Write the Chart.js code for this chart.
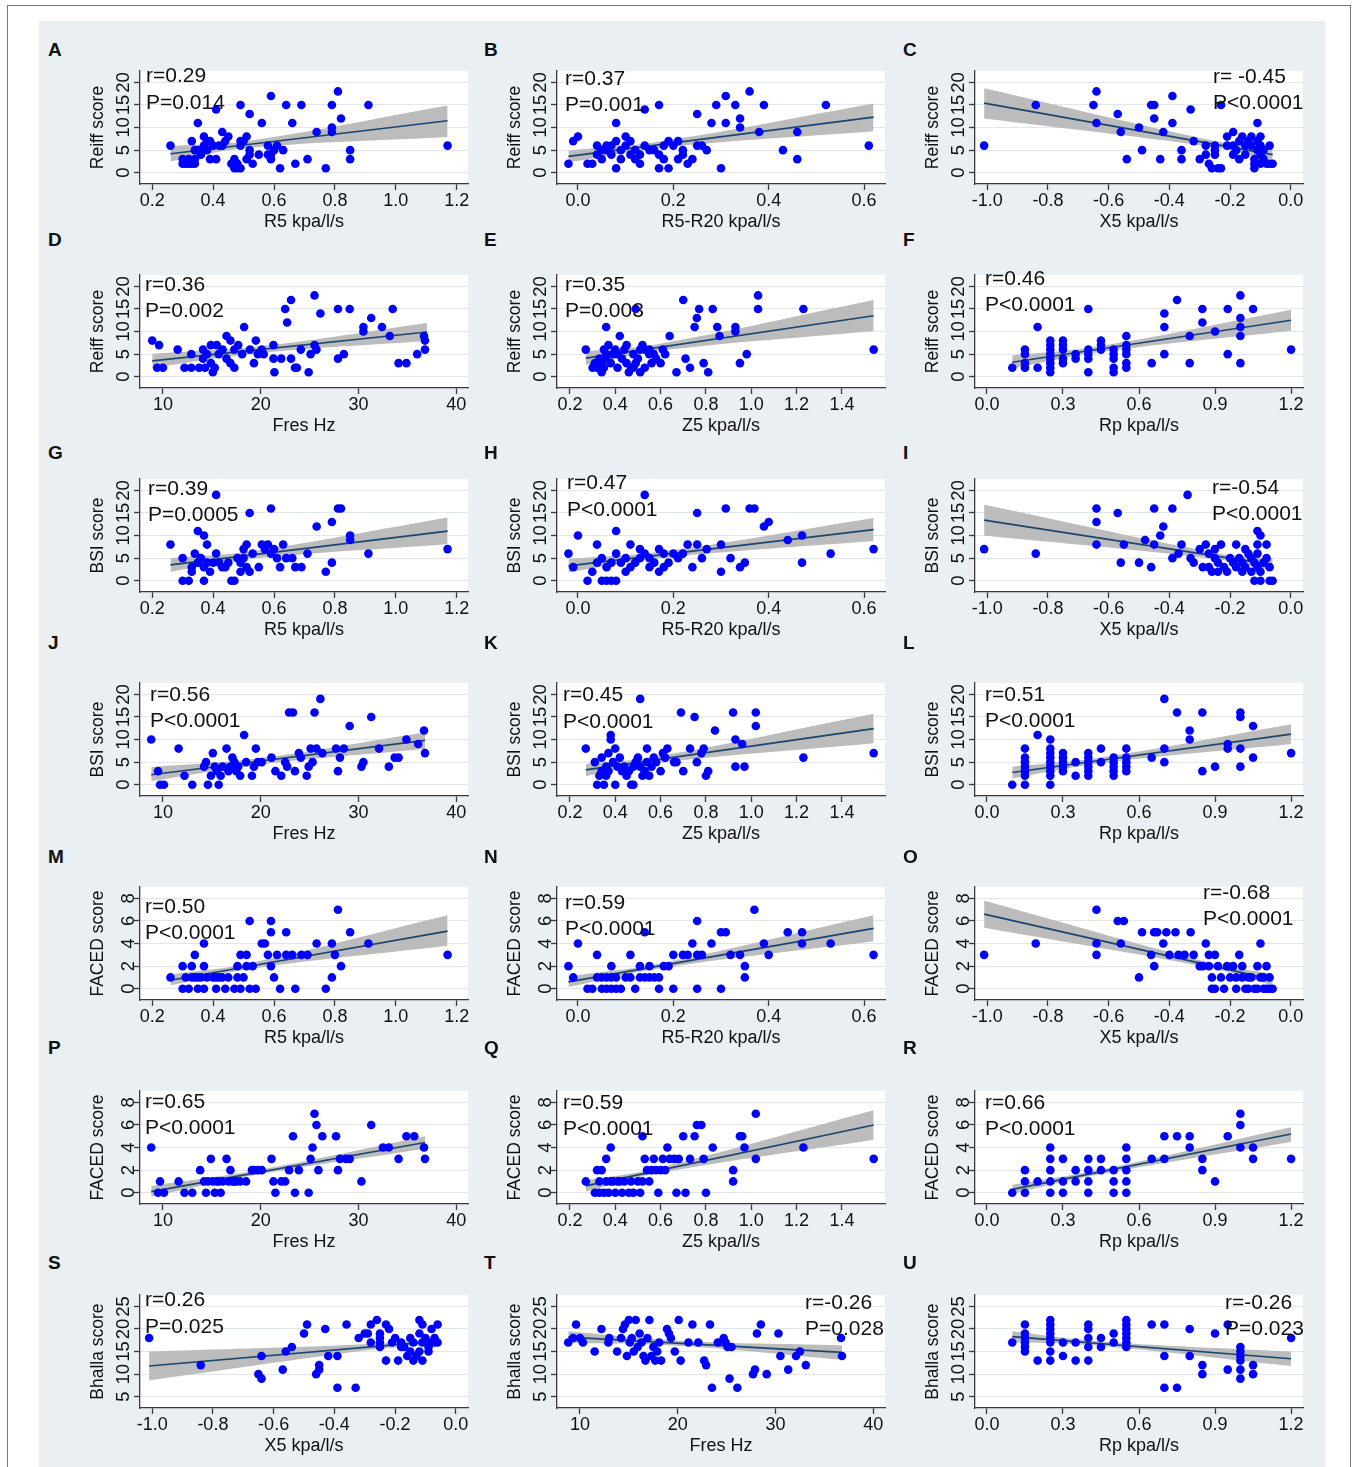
<!DOCTYPE html>
<html>
<head>
<meta charset="utf-8">
<script src="https://cdn.jsdelivr.net/npm/chart.js@4.4.1/dist/chart.umd.min.js"></script>
<style>
  body { margin: 0; background: #fff; }
  #fig { position: relative; width: 1357px; height: 1467px; overflow: hidden; background: #fff; }
  .frame { position: absolute; left: 7px; top: 5px; width: 1342px; height: 1480px; border: 1.5px solid #777; }
  .bg { position: absolute; left: 39px; top: 21px; width: 1286px; height: 1460px; background: #e9eff2; }
  .panel { position: absolute; width: 396px; height: 179px; }
  .letter { position: absolute; font: bold 19px "Liberation Sans", Arial, sans-serif; line-height: 20px; color: #111; }
  .stat { position: absolute; font: 21px "Liberation Sans", Arial, sans-serif; line-height: 24px; white-space: nowrap; color: #111; }
</style>
</head>
<body>
<div id="fig">
  <div class="frame"></div>
  <div class="bg"></div>
</div>
<script>
// ---------------- Axis ticks ----------------
const ticksR5 = [0.2, 0.4, 0.6, 0.8, 1.0, 1.2];
const ticksR5R20 = [0.0, 0.2, 0.4, 0.6];
const ticksX5 = [-1.0, -0.8, -0.6, -0.4, -0.2, 0.0];
const ticksFres = [10, 20, 30, 40];
const ticksZ5 = [0.2, 0.4, 0.6, 0.8, 1.0, 1.2, 1.4];
const ticksRp = [0.0, 0.3, 0.6, 0.9, 1.2];
const ticksScore20 = [0, 5, 10, 15, 20];
const ticksFaced = [0, 2, 4, 6, 8];
const ticksBhalla = [5, 10, 15, 20, 25];

// ---------------- Scatter data [x, score] ----------------
const ptsA = [[0.26,6],[0.30,3],[0.30,2],[0.31,2],[0.32,3],[0.32,2],[0.33,2],[0.33,7],[0.34,2],[0.34,3],[0.34,5],[0.35,11],[0.35,5],[0.36,4],[0.37,8],[0.37,6],[0.38,5],[0.38,7],[0.39,3],[0.39,7],[0.40,6],[0.41,14],[0.41,3],[0.42,6],[0.43,9],[0.43,6],[0.44,7],[0.45,8],[0.46,2],[0.47,1],[0.47,3],[0.48,2],[0.48,1],[0.49,15],[0.49,7],[0.49,6],[0.49,1],[0.50,7],[0.51,8],[0.51,3],[0.52,13],[0.52,5],[0.52,4],[0.53,2],[0.55,4],[0.56,11],[0.58,6],[0.58,4],[0.59,17],[0.59,4],[0.59,3],[0.60,5],[0.61,6],[0.62,1],[0.63,5],[0.64,15],[0.66,11],[0.67,2],[0.69,15],[0.71,3],[0.74,9],[0.77,1],[0.79,15],[0.79,10],[0.79,9],[0.81,18],[0.82,12],[0.85,5],[0.85,3],[0.91,15],[1.17,6]];
const ptsB = [[-0.02,2],[-0.01,7],[0.00,8],[0.02,2],[0.03,2],[0.04,6],[0.04,4],[0.05,5],[0.05,3],[0.06,6],[0.06,5],[0.07,4],[0.07,6],[0.08,7],[0.08,11],[0.08,1],[0.09,5],[0.09,3],[0.10,8],[0.10,6],[0.11,4],[0.11,7],[0.12,3],[0.12,5],[0.13,2],[0.13,4],[0.14,14],[0.14,6],[0.15,5],[0.16,5],[0.17,4],[0.17,15],[0.17,1],[0.18,3],[0.18,6],[0.19,7],[0.19,1],[0.20,6],[0.21,7],[0.21,3],[0.22,5],[0.22,4],[0.23,2],[0.24,3],[0.25,13],[0.25,6],[0.26,6],[0.27,5],[0.28,11],[0.29,15],[0.30,1],[0.31,17],[0.31,11],[0.33,15],[0.34,12],[0.34,10],[0.36,18],[0.38,9],[0.39,15],[0.43,5],[0.46,9],[0.46,3],[0.52,15],[0.61,6]];
const ptsC = [[-1.01,6],[-0.84,15],[-0.65,15],[-0.64,18],[-0.64,11],[-0.57,13],[-0.56,9],[-0.54,3],[-0.50,10],[-0.49,5],[-0.46,15],[-0.45,15],[-0.45,12],[-0.43,3],[-0.42,9],[-0.39,17],[-0.39,11],[-0.36,5],[-0.36,3],[-0.33,14],[-0.32,7],[-0.30,3],[-0.28,6],[-0.28,4],[-0.27,2],[-0.26,1],[-0.25,6],[-0.25,5],[-0.25,4],[-0.24,1],[-0.23,15],[-0.23,1],[-0.21,8],[-0.21,6],[-0.19,9],[-0.19,4],[-0.19,6],[-0.18,5],[-0.17,3],[-0.17,7],[-0.16,8],[-0.15,6],[-0.15,4],[-0.14,7],[-0.13,8],[-0.13,6],[-0.12,1],[-0.12,2],[-0.12,3],[-0.11,11],[-0.11,5],[-0.11,7],[-0.10,8],[-0.10,6],[-0.10,4],[-0.10,2],[-0.09,5],[-0.09,3],[-0.08,2],[-0.07,6],[-0.07,2],[-0.06,2]];
const ptsD = [[8.9,8],[9.6,7],[9.4,2],[10.0,2],[11.5,6],[12.2,2],[12.9,2],[12.9,5],[13.7,2],[14.1,6],[14.1,4],[14.3,2],[14.5,5],[14.9,7],[14.9,3],[15.1,1],[15.3,2],[15.5,7],[15.7,5],[16.1,6],[16.5,9],[16.5,4],[16.9,8],[16.9,3],[17.3,6],[17.3,2],[17.7,7],[18.1,5],[18.3,11],[18.9,6],[19.3,3],[19.5,8],[19.7,5],[20.1,6],[20.3,5],[21.3,7],[21.3,4],[21.4,1],[22.1,4],[22.5,15],[22.7,12],[23.1,17],[23.1,4],[23.5,2],[23.7,2],[24.1,6],[24.9,1],[25.1,5],[25.5,18],[25.5,7],[26.1,14],[25.7,6],[27.9,4],[27.9,15],[28.5,5],[29.1,15],[30.5,11],[30.5,10],[31.3,13],[32.4,11],[33.2,9],[33.5,15],[34.1,3],[34.9,3],[36.0,5],[36.7,9],[36.8,8],[36.8,6]];
const ptsE = [[0.27,6],[0.30,2],[0.31,3],[0.32,2],[0.33,4],[0.34,1],[0.34,3],[0.35,6],[0.36,11],[0.36,5],[0.37,7],[0.38,3],[0.40,6],[0.41,2],[0.41,5],[0.42,9],[0.44,6],[0.45,7],[0.46,1],[0.47,2],[0.48,5],[0.48,2],[0.49,15],[0.49,3],[0.51,6],[0.51,1],[0.52,7],[0.53,2],[0.55,5],[0.55,6],[0.56,3],[0.57,5],[0.60,3],[0.61,6],[0.64,9],[0.67,1],[0.70,17],[0.71,4],[0.73,2],[0.75,11],[0.76,13],[0.77,15],[0.79,3],[0.81,1],[0.83,15],[0.85,11],[0.86,9],[0.93,11],[0.93,10],[0.95,3],[0.98,5],[1.03,18],[1.03,15],[1.23,15],[1.54,6],[0.33,2],[0.36,4],[0.39,5],[0.43,4],[0.45,3],[0.50,4],[0.53,6],[0.58,4],[0.62,5],[0.35,2]];
const ptsF = [[0.10,2],[0.15,6],[0.15,5],[0.15,3],[0.15,2],[0.20,11],[0.20,2],[0.25,1],[0.25,2],[0.25,3],[0.25,4],[0.25,5],[0.25,6],[0.25,7],[0.25,8],[0.30,3],[0.30,4],[0.30,6],[0.30,7],[0.30,8],[0.35,5],[0.35,4],[0.40,15],[0.40,1],[0.40,6],[0.40,5],[0.40,4],[0.45,7],[0.45,8],[0.45,6],[0.50,5],[0.50,6],[0.50,4],[0.50,2],[0.50,1],[0.55,9],[0.55,7],[0.55,6],[0.55,5],[0.55,3],[0.55,2],[0.65,3],[0.70,14],[0.70,11],[0.70,5],[0.75,17],[0.80,3],[0.80,9],[0.85,15],[0.85,12],[0.90,10],[0.95,15],[0.95,5],[1.00,18],[1.00,13],[1.00,11],[1.00,9],[1.00,3],[1.05,15],[1.20,6]];
const ptsG = [[0.26,8],[0.30,5],[0.30,0],[0.32,0],[0.33,2],[0.33,3],[0.34,6],[0.35,11],[0.35,4],[0.36,5],[0.37,10],[0.37,0],[0.37,3],[0.38,8],[0.38,4],[0.39,2],[0.40,4],[0.41,19],[0.41,6],[0.42,4],[0.43,3],[0.44,3],[0.45,4],[0.46,0],[0.47,0],[0.48,5],[0.49,2],[0.49,4],[0.50,7],[0.50,5],[0.51,3],[0.51,8],[0.52,15],[0.52,2],[0.53,6],[0.55,3],[0.56,8],[0.57,7],[0.58,8],[0.59,16],[0.59,6],[0.60,7],[0.61,5],[0.62,3],[0.63,8],[0.64,5],[0.66,5],[0.67,3],[0.69,3],[0.71,6],[0.74,12],[0.77,2],[0.79,13],[0.79,4],[0.81,16],[0.82,16],[0.85,10],[0.85,9],[0.91,6],[1.17,7]];
const ptsH = [[-0.02,6],[-0.01,3],[0.00,10],[0.02,0],[0.03,2],[0.04,8],[0.04,4],[0.05,5],[0.05,0],[0.06,3],[0.06,0],[0.07,4],[0.07,0],[0.08,11],[0.08,0],[0.08,6],[0.09,4],[0.10,2],[0.10,5],[0.11,8],[0.11,3],[0.12,4],[0.13,7],[0.13,5],[0.14,19],[0.14,6],[0.15,5],[0.15,3],[0.16,4],[0.17,2],[0.17,7],[0.18,6],[0.18,3],[0.19,4],[0.20,6],[0.21,5],[0.22,6],[0.23,8],[0.24,3],[0.25,15],[0.25,8],[0.26,5],[0.27,7],[0.30,8],[0.30,2],[0.31,16],[0.32,5],[0.34,3],[0.35,4],[0.36,16],[0.37,16],[0.39,12],[0.40,13],[0.44,9],[0.47,10],[0.47,4],[0.53,6],[0.62,7]];
const ptsI = [[-1.01,7],[-0.84,6],[-0.64,13],[-0.64,16],[-0.64,8],[-0.57,15],[-0.56,4],[-0.55,8],[-0.50,4],[-0.48,9],[-0.46,3],[-0.45,16],[-0.45,8],[-0.43,10],[-0.42,12],[-0.39,16],[-0.39,5],[-0.37,6],[-0.36,8],[-0.34,19],[-0.33,5],[-0.32,4],[-0.30,7],[-0.29,3],[-0.28,8],[-0.27,6],[-0.27,3],[-0.26,2],[-0.25,7],[-0.25,5],[-0.24,4],[-0.24,2],[-0.23,8],[-0.22,3],[-0.21,2],[-0.20,5],[-0.19,4],[-0.18,8],[-0.18,3],[-0.17,5],[-0.16,4],[-0.16,2],[-0.15,7],[-0.15,3],[-0.14,6],[-0.13,5],[-0.13,2],[-0.12,4],[-0.12,0],[-0.11,11],[-0.11,8],[-0.11,6],[-0.11,3],[-0.10,10],[-0.10,0],[-0.10,2],[-0.09,4],[-0.08,8],[-0.08,5],[-0.07,0],[-0.06,0],[-0.07,3]];
const ptsJ = [[8.8,10],[9.5,3],[9.7,0],[10.1,0],[11.6,8],[12.2,2],[13.0,0],[14.2,4],[14.4,5],[14.6,0],[14.9,2],[15.1,7],[15.3,4],[15.5,3],[15.7,0],[15.9,2],[16.1,4],[16.5,8],[16.7,3],[16.9,4],[17.1,6],[17.3,5],[17.5,3],[17.7,4],[17.9,2],[18.3,11],[18.5,5],[19.1,2],[19.3,4],[19.5,8],[19.7,5],[20.1,5],[21.1,6],[21.5,3],[22.1,2],[22.5,5],[22.7,4],[22.9,16],[23.3,16],[23.5,3],[23.9,7],[24.1,6],[24.7,2],[24.9,4],[25.1,8],[25.3,5],[25.5,16],[25.7,8],[26.1,19],[26.3,7],[27.7,8],[27.9,3],[28.1,6],[28.5,8],[29.1,13],[30.3,4],[30.5,5],[31.3,15],[32.1,8],[33.1,4],[33.7,6],[34.1,6],[34.9,10],[36.1,9],[36.7,12],[36.8,7]];
const ptsK = [[0.27,8],[0.31,5],[0.32,0],[0.33,2],[0.34,6],[0.34,3],[0.35,0],[0.36,4],[0.36,2],[0.37,7],[0.37,3],[0.38,11],[0.38,10],[0.39,5],[0.40,8],[0.40,0],[0.41,4],[0.42,6],[0.43,3],[0.44,4],[0.45,2],[0.46,3],[0.47,0],[0.48,0],[0.48,4],[0.49,5],[0.50,6],[0.51,19],[0.51,4],[0.52,2],[0.53,3],[0.54,5],[0.54,8],[0.55,2],[0.56,4],[0.57,6],[0.58,5],[0.60,3],[0.61,7],[0.62,6],[0.63,8],[0.66,5],[0.67,5],[0.69,16],[0.70,3],[0.73,8],[0.75,15],[0.76,5],[0.78,7],[0.79,8],[0.80,2],[0.81,3],[0.84,12],[0.92,16],[0.93,10],[0.93,4],[0.96,9],[0.97,4],[1.02,16],[1.02,13],[1.23,6],[1.54,7]];
const ptsL = [[0.10,0],[0.15,8],[0.15,6],[0.15,5],[0.15,4],[0.15,3],[0.15,2],[0.15,0],[0.20,11],[0.25,10],[0.25,8],[0.25,7],[0.25,6],[0.25,5],[0.25,4],[0.25,3],[0.25,2],[0.25,0],[0.30,7],[0.30,6],[0.30,5],[0.30,4],[0.30,3],[0.35,5],[0.35,2],[0.40,7],[0.40,6],[0.40,5],[0.40,4],[0.40,3],[0.40,2],[0.45,8],[0.45,5],[0.50,6],[0.50,5],[0.50,4],[0.50,3],[0.50,2],[0.55,8],[0.55,6],[0.55,5],[0.55,4],[0.55,3],[0.65,6],[0.70,19],[0.70,8],[0.70,5],[0.75,16],[0.80,12],[0.80,10],[0.85,16],[0.85,3],[0.90,4],[0.95,9],[0.95,8],[1.00,16],[1.00,15],[1.00,8],[1.00,4],[1.05,13],[1.05,6],[1.20,7]];
const ptsM = [[0.26,1],[0.30,0],[0.30,2],[0.31,1],[0.32,0],[0.33,2],[0.33,1],[0.34,3],[0.34,1],[0.35,1],[0.35,0],[0.36,1],[0.37,4],[0.37,2],[0.37,0],[0.38,1],[0.40,1],[0.41,1],[0.41,0],[0.42,1],[0.43,1],[0.44,0],[0.45,1],[0.47,0],[0.48,2],[0.48,1],[0.49,3],[0.49,0],[0.50,1],[0.51,3],[0.51,2],[0.52,6],[0.52,0],[0.53,2],[0.54,0],[0.56,4],[0.57,4],[0.58,3],[0.59,6],[0.59,5],[0.59,2],[0.60,1],[0.61,3],[0.62,0],[0.64,5],[0.64,3],[0.66,3],[0.67,0],[0.69,3],[0.71,3],[0.74,4],[0.77,0],[0.79,4],[0.79,1],[0.80,3],[0.81,7],[0.82,2],[0.85,5],[0.91,4],[1.17,3]];
const ptsN = [[-0.02,2],[-0.01,1],[0.00,4],[0.02,0],[0.03,0],[0.04,3],[0.04,1],[0.05,1],[0.05,0],[0.06,1],[0.06,0],[0.07,2],[0.07,1],[0.07,0],[0.08,1],[0.08,0],[0.09,0],[0.10,1],[0.11,3],[0.11,1],[0.12,0],[0.13,2],[0.13,1],[0.14,5],[0.14,1],[0.15,2],[0.15,1],[0.16,1],[0.17,1],[0.17,0],[0.18,2],[0.19,2],[0.20,3],[0.20,0],[0.22,3],[0.23,3],[0.24,4],[0.25,6],[0.25,3],[0.25,0],[0.26,3],[0.28,4],[0.30,5],[0.30,0],[0.31,5],[0.32,3],[0.34,3],[0.35,2],[0.35,1],[0.37,7],[0.39,4],[0.40,3],[0.44,5],[0.47,5],[0.47,4],[0.53,4],[0.62,3]];
const ptsO = [[-1.01,3],[-0.84,4],[-0.64,7],[-0.64,4],[-0.64,3],[-0.57,6],[-0.56,4],[-0.55,6],[-0.50,1],[-0.49,5],[-0.46,3],[-0.45,5],[-0.45,2],[-0.44,5],[-0.42,4],[-0.41,5],[-0.40,3],[-0.38,5],[-0.37,3],[-0.35,3],[-0.33,5],[-0.32,3],[-0.30,2],[-0.29,2],[-0.28,4],[-0.27,3],[-0.27,2],[-0.26,1],[-0.26,0],[-0.25,3],[-0.25,0],[-0.24,2],[-0.23,1],[-0.22,0],[-0.21,2],[-0.20,1],[-0.19,2],[-0.18,1],[-0.18,0],[-0.17,3],[-0.16,1],[-0.16,2],[-0.15,0],[-0.14,1],[-0.14,0],[-0.13,1],[-0.12,0],[-0.11,2],[-0.11,0],[-0.10,4],[-0.10,1],[-0.09,0],[-0.09,1],[-0.08,2],[-0.08,0],[-0.07,1],[-0.07,0],[-0.06,0]];
const ptsP = [[8.8,4],[9.5,0],[9.7,1],[10.1,0],[11.6,1],[12.2,0],[13.0,0],[13.8,2],[14.2,1],[14.4,0],[14.6,1],[14.9,3],[15.1,1],[15.3,0],[15.5,1],[15.7,1],[15.9,0],[16.1,1],[16.5,3],[16.7,1],[16.9,2],[17.1,1],[17.3,1],[17.5,1],[17.9,1],[18.5,1],[19.1,2],[19.3,2],[19.7,2],[20.1,2],[21.1,3],[21.3,1],[21.5,0],[22.1,1],[22.5,1],[22.9,2],[23.3,5],[23.5,0],[23.9,2],[24.9,0],[25.1,3],[25.3,4],[25.5,7],[25.7,6],[25.9,2],[26.3,5],[27.7,5],[27.9,2],[28.1,3],[28.7,3],[29.1,3],[30.3,1],[31.3,6],[32.5,4],[33.1,4],[34.1,3],[34.9,5],[35.7,5],[36.7,4],[36.8,3]];
const ptsQ = [[0.27,1],[0.31,0],[0.32,2],[0.33,1],[0.33,0],[0.34,2],[0.35,0],[0.36,3],[0.36,1],[0.37,0],[0.38,4],[0.38,1],[0.39,1],[0.40,0],[0.41,1],[0.42,1],[0.43,0],[0.44,1],[0.46,0],[0.47,1],[0.48,0],[0.50,1],[0.51,0],[0.52,5],[0.52,1],[0.53,3],[0.54,2],[0.55,1],[0.56,2],[0.57,3],[0.58,2],[0.59,0],[0.60,2],[0.61,3],[0.62,2],[0.63,4],[0.64,3],[0.66,3],[0.67,0],[0.68,3],[0.70,5],[0.71,0],[0.73,3],[0.75,5],[0.76,6],[0.78,6],[0.79,3],[0.80,0],[0.83,4],[0.92,2],[0.92,1],[0.95,5],[0.96,5],[0.97,4],[1.02,7],[1.02,3],[1.23,4],[1.54,3]];
const ptsR = [[0.10,0],[0.15,2],[0.15,1],[0.15,0],[0.20,1],[0.25,4],[0.25,3],[0.25,2],[0.25,1],[0.25,0],[0.30,3],[0.30,1],[0.30,0],[0.35,2],[0.35,1],[0.40,3],[0.40,2],[0.40,1],[0.40,0],[0.45,3],[0.45,2],[0.50,2],[0.50,1],[0.50,0],[0.55,4],[0.55,3],[0.55,2],[0.55,1],[0.55,0],[0.65,3],[0.70,5],[0.70,3],[0.75,5],[0.80,5],[0.80,4],[0.85,3],[0.85,2],[0.90,1],[0.95,5],[1.00,7],[1.00,6],[1.00,4],[1.05,4],[1.05,3],[1.20,3]];
const ptsS = [[-1.01,18],[-0.84,12],[-0.65,10],[-0.64,9],[-0.64,14],[-0.57,11],[-0.56,15],[-0.54,16],[-0.50,19],[-0.49,21],[-0.46,10],[-0.45,11],[-0.45,12],[-0.43,20],[-0.42,14],[-0.39,7],[-0.39,14],[-0.36,21],[-0.33,7],[-0.32,18],[-0.30,19],[-0.29,19],[-0.28,17],[-0.28,21],[-0.26,22],[-0.25,19],[-0.25,18],[-0.25,16],[-0.25,17],[-0.23,13],[-0.23,21],[-0.22,20],[-0.21,17],[-0.20,18],[-0.19,13],[-0.18,16],[-0.18,17],[-0.17,16],[-0.16,14],[-0.15,18],[-0.15,15],[-0.14,13],[-0.14,17],[-0.13,14],[-0.12,22],[-0.12,19],[-0.12,15],[-0.11,13],[-0.11,21],[-0.11,17],[-0.10,18],[-0.09,15],[-0.09,16],[-0.08,20],[-0.08,17],[-0.07,18],[-0.07,17],[-0.06,21],[-0.06,17]];
const ptsT = [[8.8,17],[9.3,18],[9.6,21],[10.0,18],[10.3,17],[11.5,15],[12.2,20],[12.9,17],[13.0,18],[13.8,15],[14.2,18],[14.4,20],[14.6,21],[14.8,14],[15.0,22],[15.1,17],[15.3,18],[15.5,15],[15.7,22],[15.9,16],[16.1,19],[16.3,17],[16.5,14],[16.7,13],[16.9,18],[17.1,22],[17.3,14],[17.5,16],[17.7,13],[17.9,15],[18.1,17],[18.3,13],[18.9,20],[19.1,19],[19.3,18],[19.7,15],[20.1,22],[20.3,13],[21.1,17],[21.5,21],[22.1,17],[22.7,13],[22.9,12],[23.3,21],[23.5,7],[24.1,17],[24.7,18],[24.9,17],[25.1,16],[25.3,9],[25.5,16],[26.1,7],[27.7,10],[27.9,11],[28.1,19],[28.5,21],[29.1,10],[30.3,19],[30.5,14],[31.3,11],[32.1,14],[32.5,15],[33.1,12],[36.7,18],[36.8,14]];
const ptsU = [[0.10,17],[0.15,21],[0.15,19],[0.15,18],[0.15,17],[0.15,16],[0.15,15],[0.20,13],[0.25,22],[0.25,21],[0.25,20],[0.25,19],[0.25,18],[0.25,17],[0.25,15],[0.25,13],[0.30,17],[0.30,14],[0.35,17],[0.35,13],[0.40,21],[0.40,20],[0.40,18],[0.40,16],[0.40,13],[0.45,18],[0.45,16],[0.50,19],[0.50,17],[0.55,22],[0.55,21],[0.55,20],[0.55,19],[0.55,18],[0.55,17],[0.55,16],[0.65,21],[0.70,21],[0.70,14],[0.70,7],[0.75,7],[0.80,20],[0.80,14],[0.85,12],[0.85,10],[0.90,19],[0.95,21],[0.95,11],[1.00,16],[1.00,15],[1.00,14],[1.00,13],[1.00,11],[1.00,9],[1.05,12],[1.05,10],[1.20,18]];

// ---------------- Fitted lines [x, y] and 95% CI bands [x, lower, upper] ----------------
const fitA = [[0.26,4.2],[1.17,11.5]];   const bandA = [[0.26,2.5,5.9],[0.52,5.5,7.1],[1.17,7.9,14.9]];
const fitB = [[-0.02,3.6],[0.62,12.3]];  const bandB = [[-0.02,2.3,4.9],[0.18,5.6,7.0],[0.62,9.2,15.3]];
const fitC = [[-1.01,15.4],[-0.06,4.0]]; const bandC = [[-1.01,12.0,18.7],[-0.25,5.6,7.0],[-0.06,2.8,5.2]];
const fitD = [[8.9,3.5],[37,9.9]];       const bandD = [[8.9,2.0,5.1],[20,5.25,6.75],[37,7.9,11.9]];
const fitE = [[0.27,4.1],[1.54,13.5]];   const bandE = [[0.27,2.6,5.6],[0.58,5.65,7.15],[1.54,10.1,17.0]];
const fitF = [[0.10,3.2],[1.20,12.5]];   const bandF = [[0.10,1.8,4.7],[0.45,5.5,6.8],[1.20,10.2,14.8]];
const fitG = [[0.26,3.5],[1.17,11.0]];   const bandG = [[0.26,2.0,5.0],[0.52,4.85,6.45],[1.17,8.1,14.0]];
const fitH = [[-0.02,3.3],[0.62,11.3]];  const bandH = [[-0.02,1.9,4.8],[0.18,5.1,6.5],[0.62,8.8,13.9]];
const fitI = [[-1.01,13.4],[-0.06,3.5]]; const bandI = [[-1.01,10.0,16.8],[-0.25,4.8,6.2],[-0.06,2.3,4.8]];
const fitJ = [[8.8,2.2],[36.8,9.8]];     const bandJ = [[8.8,0.8,3.9],[20,4.5,5.9],[36.8,7.9,11.6]];
const fitK = [[0.27,3.3],[1.54,12.4]];   const bandK = [[0.27,1.9,4.6],[0.58,4.8,6.2],[1.54,9.2,15.7]];
const fitL = [[0.10,2.7],[1.20,11.2]];   const bandL = [[0.10,1.4,4.0],[0.45,4.75,6.05],[1.20,9.0,13.4]];
const fitM = [[0.26,0.75],[1.17,5.1]];   const bandM = [[0.26,0.3,1.25],[0.52,1.75,2.25],[1.17,3.8,6.5]];
const fitN = [[-0.02,0.6],[0.62,5.35]];  const bandN = [[-0.02,0.15,1.1],[0.18,1.85,2.3],[0.62,4.2,6.5]];
const fitO = [[-1.01,6.6],[-0.06,0.8]];  const bandO = [[-1.01,5.4,7.8],[-0.25,1.75,2.2],[-0.06,0.3,1.3]];
const fitP = [[8.8,0.1],[36.8,4.45]];    const bandP = [[8.8,-0.35,0.6],[20,1.65,2.05],[36.8,3.9,5.0]];
const fitQ = [[0.27,0.6],[1.54,6.0]];    const bandQ = [[0.27,0.1,1.1],[0.58,1.7,2.15],[1.54,4.7,7.3]];
const fitR = [[0.10,0.3],[1.20,5.2]];    const bandR = [[0.10,-0.1,0.7],[0.45,1.65,2.05],[1.20,4.5,5.8]];
const fitS = [[-1.01,11.8],[-0.06,17.3]]; const bandS = [[-1.01,8.6,15.0],[-0.25,15.6,16.8],[-0.06,16.5,18.1]];
const fitT = [[8.8,18.2],[36.8,14.8]];   const bandT = [[8.8,16.9,19.5],[20,16.3,17.4],[36.8,13.2,16.4]];
const fitU = [[0.10,18.3],[1.20,13.4]];  const bandU = [[0.10,17.1,19.5],[0.45,16.25,17.25],[1.20,11.8,15.0]];

// ---------------- Correlation labels ----------------
const statA = ['r=0.29', 'P=0.014'];
const statB = ['r=0.37', 'P=0.001'];
const statC = ['r= -0.45', 'P<0.0001'];
const statD = ['r=0.36', 'P=0.002'];
const statE = ['r=0.35', 'P=0.003'];
const statF = ['r=0.46', 'P<0.0001'];
const statG = ['r=0.39', 'P=0.0005'];
const statH = ['r=0.47', 'P<0.0001'];
const statI = ['r=-0.54', 'P<0.0001'];
const statJ = ['r=0.56', 'P<0.0001'];
const statK = ['r=0.45', 'P<0.0001'];
const statL = ['r=0.51', 'P<0.0001'];
const statM = ['r=0.50', 'P<0.0001'];
const statN = ['r=0.59', 'P<0.0001'];
const statO = ['r=-0.68', 'P<0.0001'];
const statP = ['r=0.65', 'P<0.0001'];
const statQ = ['r=0.59', 'P<0.0001'];
const statR = ['r=0.66', 'P<0.0001'];
const statS = ['r=0.26', 'P=0.025'];
const statT = ['r=-0.26', 'P=0.028'];
const statU = ['r=-0.26', 'P=0.023'];

// ---------------- Axis setup ----------------
const FONT = '"Liberation Sans", Arial, Helvetica, sans-serif';
const xAxes = {
  R5:    { title: 'R5 kpa/l/s',     min: 0.16,   max: 1.237, ticks: ticksR5,    dec: 1 },
  R5R20: { title: 'R5-R20 kpa/l/s', min: -0.044, max: 0.644, ticks: ticksR5R20, dec: 1 },
  X5:    { title: 'X5 kpa/l/s',     min: -1.04,  max: 0.04,  ticks: ticksX5,    dec: 1 },
  Fres:  { title: 'Fres Hz',        min: 7.65,   max: 41.2,  ticks: ticksFres,  dec: 0 },
  Z5:    { title: 'Z5 kpa/l/s',     min: 0.143,  max: 1.59,  ticks: ticksZ5,    dec: 1 },
  Rp:    { title: 'Rp kpa/l/s',     min: -0.047, max: 1.247, ticks: ticksRp,    dec: 1 }
};
const yAxes = {
  Reiff:  { title: 'Reiff score',  min: -2.5, max: 22.5, ticks: ticksScore20 },
  BSI:    { title: 'BSI score',    min: -2.5, max: 22.5, ticks: ticksScore20 },
  FACED:  { title: 'FACED score',  min: -1,   max: 9,    ticks: ticksFaced },
  Bhalla: { title: 'Bhalla score', min: 2.5,  max: 27.5, ticks: ticksBhalla }
};

// ---------------- Layout ----------------
const colLeft = [140, 557, 975];        // left edge of each plot area
const rowTop = [70, 274, 478, 682, 886, 1090, 1294];
const letterLeft = [48, 484, 903];
const letterMid = [50, 240, 453, 643, 857, 1048, 1263];

const panels = [
  { id: 'A', col: 0, row: 0, x: 'R5',    y: 'Reiff',  pts: ptsA, fit: fitA, band: bandA, stat: statA, at: [146, 75, 102] },
  { id: 'B', col: 1, row: 0, x: 'R5R20', y: 'Reiff',  pts: ptsB, fit: fitB, band: bandB, stat: statB, at: [565, 78, 104] },
  { id: 'C', col: 2, row: 0, x: 'X5',    y: 'Reiff',  pts: ptsC, fit: fitC, band: bandC, stat: statC, at: [1213, 76, 102] },
  { id: 'D', col: 0, row: 1, x: 'Fres',  y: 'Reiff',  pts: ptsD, fit: fitD, band: bandD, stat: statD, at: [145, 284, 310] },
  { id: 'E', col: 1, row: 1, x: 'Z5',    y: 'Reiff',  pts: ptsE, fit: fitE, band: bandE, stat: statE, at: [565, 284, 310] },
  { id: 'F', col: 2, row: 1, x: 'Rp',    y: 'Reiff',  pts: ptsF, fit: fitF, band: bandF, stat: statF, at: [985, 278, 304] },
  { id: 'G', col: 0, row: 2, x: 'R5',    y: 'BSI',    pts: ptsG, fit: fitG, band: bandG, stat: statG, at: [148, 488, 514] },
  { id: 'H', col: 1, row: 2, x: 'R5R20', y: 'BSI',    pts: ptsH, fit: fitH, band: bandH, stat: statH, at: [567, 482, 509] },
  { id: 'I', col: 2, row: 2, x: 'X5',    y: 'BSI',    pts: ptsI, fit: fitI, band: bandI, stat: statI, at: [1212, 487, 513] },
  { id: 'J', col: 0, row: 3, x: 'Fres',  y: 'BSI',    pts: ptsJ, fit: fitJ, band: bandJ, stat: statJ, at: [150, 694, 720] },
  { id: 'K', col: 1, row: 3, x: 'Z5',    y: 'BSI',    pts: ptsK, fit: fitK, band: bandK, stat: statK, at: [563, 694, 721] },
  { id: 'L', col: 2, row: 3, x: 'Rp',    y: 'BSI',    pts: ptsL, fit: fitL, band: bandL, stat: statL, at: [985, 694, 720] },
  { id: 'M', col: 0, row: 4, x: 'R5',    y: 'FACED',  pts: ptsM, fit: fitM, band: bandM, stat: statM, at: [145, 906, 932] },
  { id: 'N', col: 1, row: 4, x: 'R5R20', y: 'FACED',  pts: ptsN, fit: fitN, band: bandN, stat: statN, at: [565, 902, 928] },
  { id: 'O', col: 2, row: 4, x: 'X5',    y: 'FACED',  pts: ptsO, fit: fitO, band: bandO, stat: statO, at: [1203, 892, 918] },
  { id: 'P', col: 0, row: 5, x: 'Fres',  y: 'FACED',  pts: ptsP, fit: fitP, band: bandP, stat: statP, at: [145, 1101, 1127] },
  { id: 'Q', col: 1, row: 5, x: 'Z5',    y: 'FACED',  pts: ptsQ, fit: fitQ, band: bandQ, stat: statQ, at: [563, 1102, 1128] },
  { id: 'R', col: 2, row: 5, x: 'Rp',    y: 'FACED',  pts: ptsR, fit: fitR, band: bandR, stat: statR, at: [985, 1102, 1128] },
  { id: 'S', col: 0, row: 6, x: 'X5',    y: 'Bhalla', pts: ptsS, fit: fitS, band: bandS, stat: statS, at: [145, 1299, 1326] },
  { id: 'T', col: 1, row: 6, x: 'Fres',  y: 'Bhalla', pts: ptsT, fit: fitT, band: bandT, stat: statT, at: [805, 1302, 1328] },
  { id: 'U', col: 2, row: 6, x: 'Rp',    y: 'Bhalla', pts: ptsU, fit: fitU, band: bandU, stat: statU, at: [1225, 1302, 1328] }
];

// white plot region behind the marks
const whiteArea = {
  id: 'whiteArea',
  beforeDraw(chart) {
    const { ctx, chartArea: a } = chart;
    ctx.save();
    ctx.fillStyle = '#ffffff';
    ctx.fillRect(a.left, a.top, a.right - a.left, a.bottom - a.top);
    ctx.restore();
  }
};

const fig = document.getElementById('fig');
const AXIS = '#3a3a3a';

function addText(cls, text, left, top) {
  const d = document.createElement('div');
  d.className = cls;
  d.textContent = text;
  d.style.left = left + 'px';
  d.style.top = top + 'px';
  fig.appendChild(d);
}

function makePanel(p) {
  const L = colLeft[p.col], T = rowTop[p.row];
  const xa = xAxes[p.x], ya = yAxes[p.y];

  const wrap = document.createElement('div');
  wrap.className = 'panel';
  wrap.style.left = (L - 60) + 'px';
  wrap.style.top = (T - 10) + 'px';
  const cv = document.createElement('canvas');
  wrap.appendChild(cv);
  fig.appendChild(wrap);

  new Chart(cv, {
    type: 'scatter',
    data: {
      datasets: [
        { data: p.pts.map(d => ({ x: d[0], y: d[1] })), backgroundColor: '#0000ff', borderWidth: 0, pointRadius: 4.3 },
        { type: 'line', data: p.fit.map(d => ({ x: d[0], y: d[1] })), borderColor: '#1a476f', borderWidth: 1.7, pointRadius: 0, fill: false },
        { type: 'line', data: p.band.map(d => ({ x: d[0], y: d[2] })), borderWidth: 0, borderColor: 'rgba(0,0,0,0)',
          backgroundColor: '#bcbcbc', pointRadius: 0, tension: 0.4, fill: '+1' },
        { type: 'line', data: p.band.map(d => ({ x: d[0], y: d[1] })), borderWidth: 0, borderColor: 'rgba(0,0,0,0)',
          pointRadius: 0, tension: 0.4, fill: false }
      ]
    },
    options: {
      responsive: true,
      maintainAspectRatio: false,
      animation: false,
      events: [],
      layout: { padding: { left: 0, top: 10, right: 8, bottom: 0 } },
      plugins: { legend: { display: false }, tooltip: { enabled: false } },
      scales: {
        x: {
          type: 'linear', min: xa.min, max: xa.max,
          afterBuildTicks: s => { s.ticks = xa.ticks.map(v => ({ value: v })); },
          afterFit: s => { s.height = 55; },
          ticks: { autoSkip: false, minRotation: 0, maxRotation: 0, padding: 0, color: '#111',
                   font: { family: FONT, size: 18 }, callback: v => Number(v).toFixed(xa.dec) },
          grid: { drawOnChartArea: false, tickLength: 6, tickColor: AXIS, tickWidth: 1.3 },
          border: { color: AXIS, width: 1.3 },
          title: { display: true, text: xa.title, color: '#111', font: { family: FONT, size: 18 },
                   padding: { top: 0, bottom: 6 } }
        },
        y: {
          type: 'linear', min: ya.min, max: ya.max,
          afterBuildTicks: s => { s.ticks = ya.ticks.map(v => ({ value: v })); },
          afterFit: s => { s.width = 60; },
          ticks: { autoSkip: false, minRotation: 90, maxRotation: 90, crossAlign: 'center', padding: 0, color: '#111',
                   font: { family: FONT, size: 18.5 }, callback: v => String(v) },
          grid: { color: '#dfe7ec', lineWidth: 1, tickLength: 6, tickColor: AXIS, tickWidth: 1.3 },
          border: { color: AXIS, width: 1.3 },
          title: { display: true, text: ya.title, color: '#111', font: { family: FONT, size: 17.5 },
                   padding: { top: 8, bottom: 0 } }
        }
      }
    },
    plugins: [whiteArea]
  });
}

// ---------------- Render ----------------
panels.forEach(makePanel);
panels.forEach(p => {
  addText('letter', p.id, letterLeft[p.col], letterMid[p.row] - 10);
  addText('stat', p.stat[0], p.at[0], p.at[1] - 12);
  addText('stat', p.stat[1], p.at[0], p.at[2] - 12);
});
</script>
</body>
</html>
